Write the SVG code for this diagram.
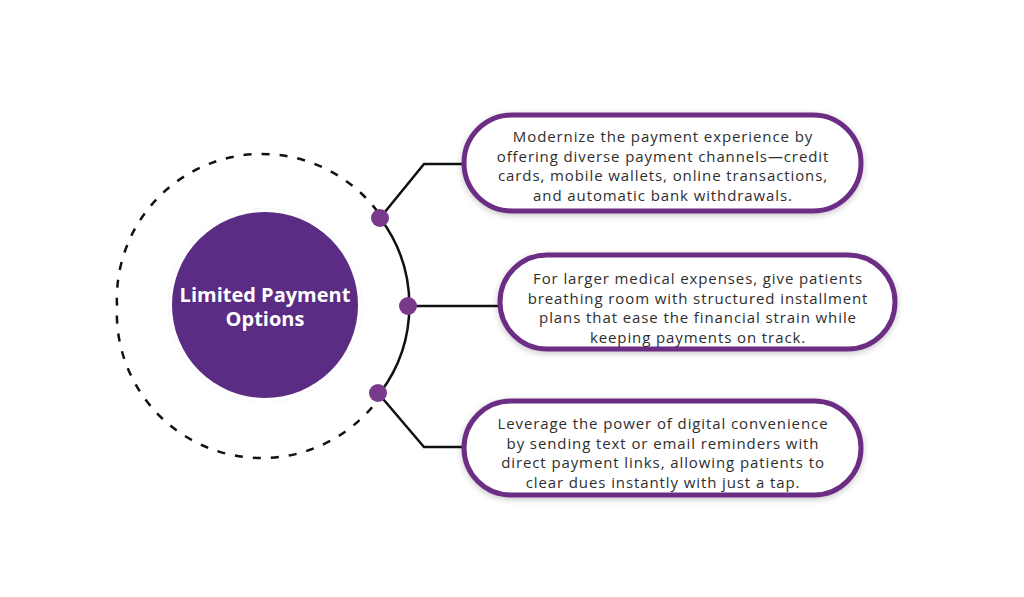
<svg xmlns="http://www.w3.org/2000/svg" width="1024" height="597" viewBox="0 0 1024 597">
  <defs>
    <filter id="glow" x="-30%" y="-30%" width="160%" height="160%">
      <feGaussianBlur in="SourceAlpha" stdDeviation="6"/>
      <feFlood flood-color="#9fb0d6" flood-opacity="0.6"/>
      <feComposite operator="in" in2="SourceGraphic"/>
      <feMerge><feMergeNode/><feMergeNode in="SourceGraphic"/></feMerge>
    </filter>
    <filter id="shadow" x="-10%" y="-20%" width="120%" height="150%">
      <feGaussianBlur in="SourceAlpha" stdDeviation="3"/>
      <feOffset dx="0" dy="2" result="b"/>
      <feFlood flood-color="#000" flood-opacity="0.22"/>
      <feComposite operator="in" in2="b"/>
      <feMerge><feMergeNode/><feMergeNode in="SourceGraphic"/></feMerge>
    </filter>
  </defs>
  <style>
    .box { fill: #ffffff; stroke: #6c2e84; stroke-width: 5; }
    .txt { font-family: "Open Sans", "Liberation Sans", sans-serif; font-size: 15px; letter-spacing: 0.9px; fill: #2e2e2e; text-anchor: middle; }
    .ctr { font-family: "Open Sans", "Liberation Sans", sans-serif; font-size: 20px; font-weight: bold; fill: #ffffff; text-anchor: middle; }
    .line { fill: none; stroke: #111111; stroke-width: 2.5; }
    .dot { fill: #7a3a8c; }
  </style>
  <rect width="1024" height="597" fill="#ffffff"/>
  <g id="connectors">
    <path class="line" d="M 377.5 211.5 A 145 145 0 0 0 117 306 A 145 145 0 0 0 377.5 400.5" stroke-dasharray="8 10"/>
    <path class="line" d="M 380 218 A 145 145 0 0 1 380 393"/>
    <polyline class="line" points="380,218 424,164 466,164"/>
    <line class="line" x1="408" y1="306" x2="502" y2="306"/>
    <polyline class="line" points="378,393 424,447 466,447"/>
  </g>
  <g id="center">
    <circle cx="265" cy="305" r="97" fill="#ffffff" filter="url(#glow)"/>
    <circle cx="265" cy="305" r="93" fill="#5b2c83"/>
    <text class="ctr" x="265" y="302">Limited Payment</text>
    <text class="ctr" x="265" y="326">Options</text>
  </g>
  <g id="dot1"><circle class="dot" cx="380" cy="218" r="9"/></g>
  <g id="dot2"><circle class="dot" cx="408" cy="306" r="9"/></g>
  <g id="dot3"><circle class="dot" cx="378" cy="393" r="9"/></g>
  <g id="box1">
    <rect class="box" x="464" y="115" width="397" height="96" rx="48" filter="url(#shadow)"/>
    <text class="txt" x="663" y="142">Modernize the payment experience by</text>
    <text class="txt" x="663" y="161.5">offering diverse payment channels—credit</text>
    <text class="txt" x="663" y="181">cards, mobile wallets, online transactions,</text>
    <text class="txt" x="663" y="200.5">and automatic bank withdrawals.</text>
  </g>
  <g id="box2">
    <rect class="box" x="500" y="255" width="395" height="94" rx="47" filter="url(#shadow)"/>
    <text class="txt" x="698" y="284">For larger medical expenses, give patients</text>
    <text class="txt" x="698" y="303.5">breathing room with structured installment</text>
    <text class="txt" x="698" y="323">plans that ease the financial strain while</text>
    <text class="txt" x="698" y="342.5">keeping payments on track.</text>
  </g>
  <g id="box3">
    <rect class="box" x="464" y="401" width="397" height="94" rx="47" filter="url(#shadow)"/>
    <text class="txt" x="663" y="429">Leverage the power of digital convenience</text>
    <text class="txt" x="663" y="448.5">by sending text or email reminders with</text>
    <text class="txt" x="663" y="468">direct payment links, allowing patients to</text>
    <text class="txt" x="663" y="487.5">clear dues instantly with just a tap.</text>
  </g>
</svg>
